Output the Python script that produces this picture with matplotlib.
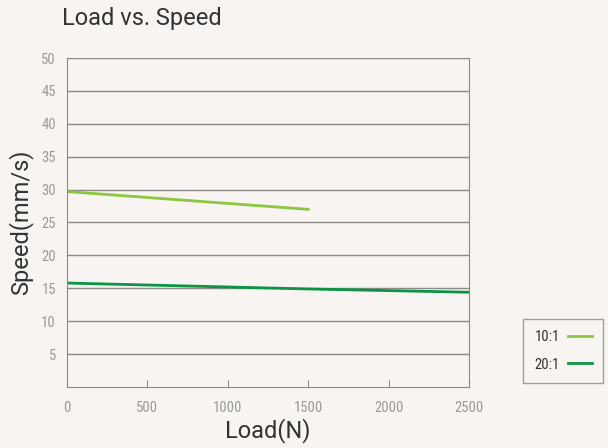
import matplotlib
matplotlib.use("Agg")
import matplotlib.pyplot as plt

load_10 = [0, 1500]
speed_10 = [29.7, 27.0]
load_20 = [0, 1500, 2500]
speed_20 = [15.8, 14.9, 14.4]
series_labels = ["10:1", "20:1"]
y_ticks = [5, 10, 15, 20, 25, 30, 35, 40, 45, 50]
x_ticks = [0, 500, 1000, 1500, 2000, 2500]

bg = "#f7f4f1"
grid = "#8a8a8a"
tick_col = "#9a9a9a"
narrow = ["Roboto Condensed", "Roboto", "DejaVu Sans"]
plt.rcParams["font.family"] = ["Roboto", "DejaVu Sans"]

fig = plt.figure(figsize=(6.08, 4.48), dpi=100, facecolor=bg)
ax = fig.add_axes([67 / 608, 1 - 387 / 448, 402 / 608, 329 / 448], facecolor=bg)

ax.plot(load_10, speed_10, color="#8cc63f", lw=2, label=series_labels[0])
ax.plot(load_20, speed_20, color="#0c9444", lw=2, label=series_labels[1])

ax.set_xlim(0, 2500)
ax.set_ylim(0, 50)
ax.set_yticks(y_ticks)
ax.set_xticks(x_ticks)
for y in y_ticks:
    ax.axhline(y, color=grid, lw=1, zorder=0)

for s in ax.spines.values():
    s.set_color(grid)
ax.spines["top"].set_visible(False)
ax.tick_params(axis="y", length=0, pad=8, labelcolor=tick_col, labelsize=10.5)
ax.tick_params(axis="x", direction="in", length=5, color=grid, pad=10,
               labelcolor=tick_col, labelsize=10.5)
for lab in ax.get_xticklabels() + ax.get_yticklabels():
    lab.set_family(narrow)

ax.set_xlabel("Load(N)", fontsize=17, color="#333333", labelpad=2)
ax.set_ylabel("Speed(mm/s)", fontsize=17, color="#333333", labelpad=6)
fig.text(62 / 608, 1 - 18 / 448, "Load vs. Speed", fontsize=17, color="#333333",
         va="center", ha="left")

leg = ax.legend(loc="center", bbox_to_anchor=(563 / 608, 1 - 351 / 448),
                bbox_transform=fig.transFigure, frameon=True, fancybox=False,
                markerfirst=False, handlelength=1.6, handletextpad=0.6,
                prop={"family": narrow, "size": 10.5},
                borderpad=0.8, labelspacing=0.9)
leg.get_frame().set_edgecolor(grid)
leg.get_frame().set_facecolor(bg)
for t in leg.get_texts():
    t.set_color("#333333")

fig.savefig("out.png", facecolor=bg)
